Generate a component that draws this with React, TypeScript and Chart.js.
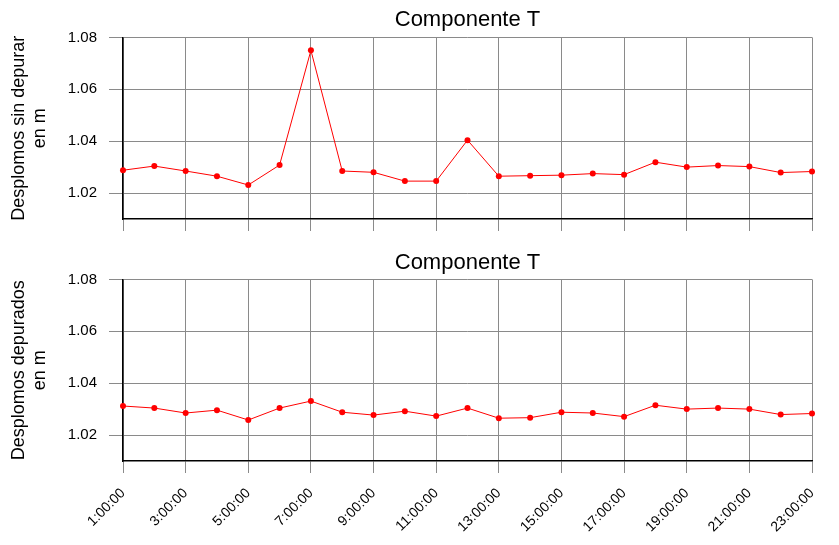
import { useEffect, useRef } from "react";
import { Chart, registerables } from "chart.js";

Chart.register(...registerables);

const hours = Array.from({ length: 23 }, (_, i) => `${i + 1}:00:00`);

const rawValues = [
    1.0288, 1.0304, 1.0285, 1.0265, 1.0231, 1.0308, 1.075, 1.0285, 1.028, 1.0246, 1.0246, 1.0404,
    1.0265, 1.0267, 1.0269, 1.0275, 1.0271, 1.0319, 1.030, 1.0306, 1.0302, 1.0279, 1.0283,
];

const cleanValues = [
    1.0312, 1.0304, 1.0285, 1.0296, 1.0258, 1.0304, 1.0331, 1.0288, 1.0277, 1.0292, 1.0273, 1.0304,
    1.0265, 1.0267, 1.0288, 1.0285, 1.0271, 1.0315, 1.030, 1.0304, 1.030, 1.0279, 1.0283,
];

const yTicks = [1.02, 1.04, 1.06, 1.08];

const FONT = "Arial, 'Liberation Sans', sans-serif";

interface PanelProps {
    values: number[];
    yTitle: string[];
    showLabels: boolean;
    xHeight: number;
    height: number;
    top: number;
    titlePad: { top: number; bottom: number };
}

function Panel({ values, yTitle, showLabels, xHeight, height, top, titlePad }: PanelProps) {
    const canvasRef = useRef<HTMLCanvasElement>(null);

    useEffect(() => {
        if (!canvasRef.current) return;
        const gridColor = (ctx: any) => (ctx.index % 2 === 0 ? "#8a8a8a" : "rgba(0,0,0,0)");
        const chart = new Chart(canvasRef.current, {
            type: "line",
            data: {
                labels: hours,
                datasets: [
                    {
                        data: values,
                        borderColor: "#ff0000",
                        backgroundColor: "#ff0000",
                        borderWidth: 1,
                        pointRadius: 3,
                        pointBorderWidth: 0,
                        tension: 0,
                    },
                ],
            },
            options: {
                animation: false,
                responsive: false,
                devicePixelRatio: 1,
                layout: { padding: { left: 8, right: 27, top: 0, bottom: 0 } },
                plugins: {
                    legend: { display: false },
                    tooltip: { enabled: false },
                    title: {
                        display: true,
                        text: "Componente T",
                        color: "#000",
                        fullSize: false,
                        font: { family: FONT, size: 22, weight: "normal" },
                        padding: titlePad,
                    },
                },
                scales: {
                    x: {
                        offset: false,
                        grid: { color: gridColor, tickColor: gridColor, tickLength: 12 },
                        border: { color: "#000", width: 1.5 },
                        afterFit: (axis: any) => {
                            axis.height = xHeight;
                        },
                        ticks: {
                            autoSkip: false,
                            maxRotation: 45,
                            minRotation: 45,
                            padding: 12,
                            color: "#000",
                            font: { family: FONT, size: 14 },
                            callback: (_v: any, i: number) => (showLabels && i % 2 === 0 ? hours[i] : ""),
                        },
                    },
                    y: {
                        min: 1.01,
                        max: 1.08,
                        afterBuildTicks: (axis: any) => {
                            axis.ticks = yTicks.map((v) => ({ value: v }));
                        },
                        afterFit: (axis: any) => {
                            axis.width = 115;
                        },
                        grid: { color: "#8a8a8a", tickColor: "#8a8a8a", tickLength: 14 },
                        border: { color: "#000", width: 1.5 },
                        title: {
                            display: true,
                            text: yTitle,
                            color: "#000",
                            font: { family: FONT, size: 18 },
                            padding: 0,
                        },
                        ticks: {
                            color: "#000",
                            padding: 12,
                            font: { family: FONT, size: 15 },
                            callback: (v: any) => Number(v).toFixed(2),
                        },
                    },
                },
            },
        });
        return () => chart.destroy();
    }, [values, yTitle, showLabels, xHeight, titlePad]);

    return (
        <div style={{ position: "absolute", left: 0, top, width: 839, height }}>
            <canvas ref={canvasRef} width={839} height={height} />
        </div>
    );
}

export default function App() {
    return (
        <div style={{ position: "fixed", left: 0, top: 0, width: 839, height: 545, background: "#fff" }}>
            <Panel
                values={rawValues}
                yTitle={["Desplomos sin depurar", "en m"]}
                showLabels={false}
                xHeight={36}
                height={255}
                top={0}
                titlePad={{ top: 7, bottom: 4 }}
            />
            <Panel
                values={cleanValues}
                yTitle={["Desplomos depurados", "en m"]}
                showLabels={true}
                xHeight={74}
                height={290}
                top={245}
                titlePad={{ top: 5, bottom: 3 }}
            />
        </div>
    );
}
